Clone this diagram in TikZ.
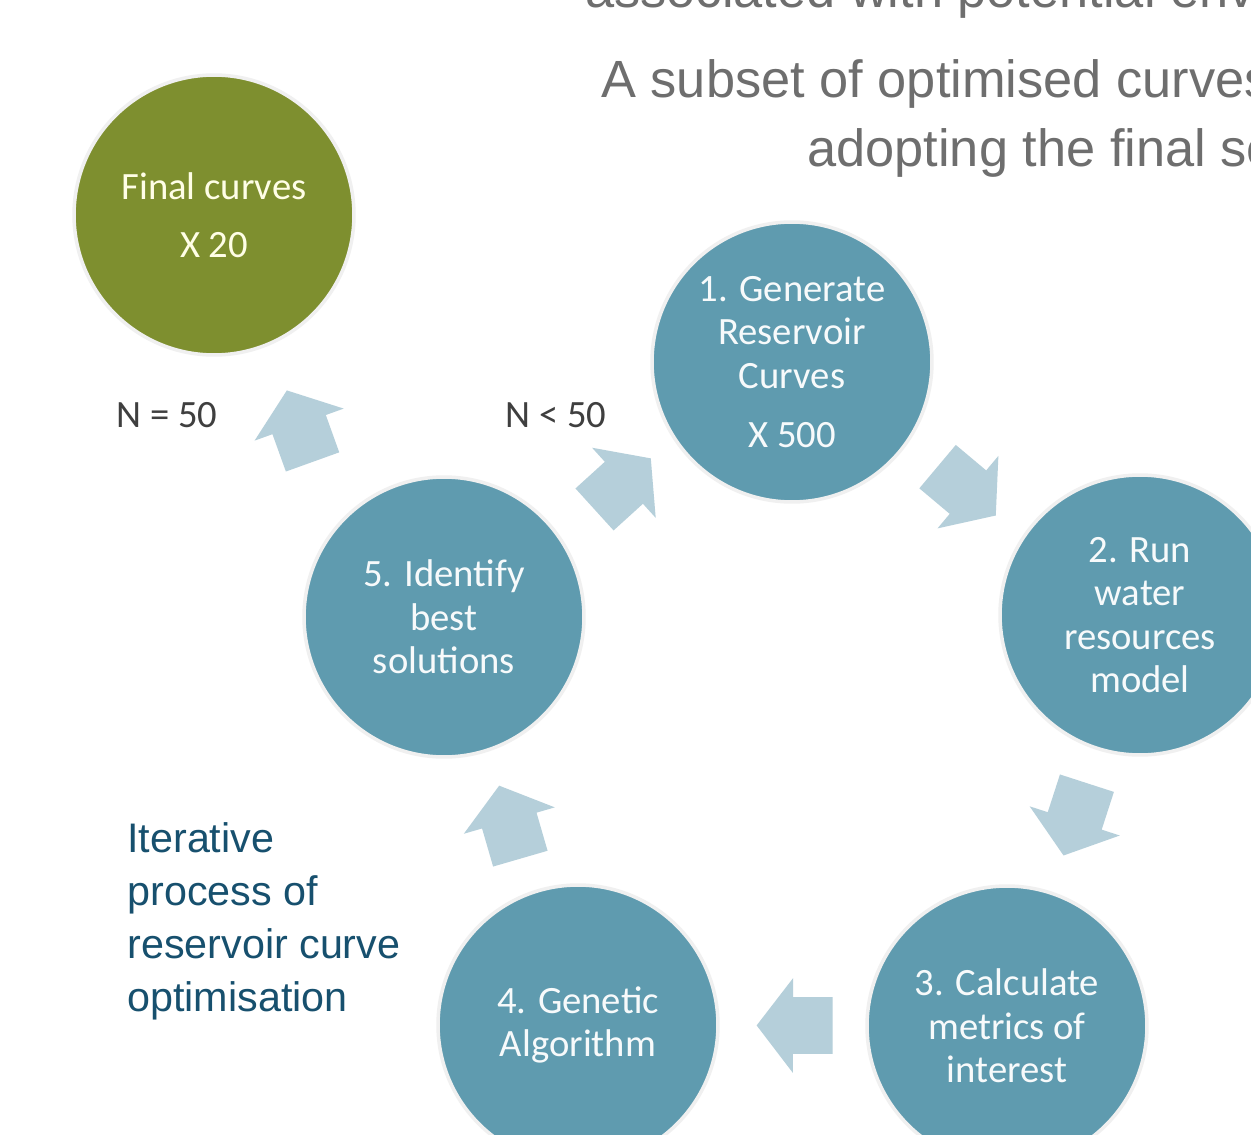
\documentclass[tikz,border=0pt]{standalone}
\usepackage{fontspec}
\setmainfont{Carlito}
\newfontfamily\arialfont{Liberation Sans}
\usepackage{xcolor}
\usetikzlibrary{positioning}
\usetikzlibrary{calc,shapes.arrows}
\definecolor{stepteal}{HTML}{5F9BAF}
\definecolor{finalolive}{HTML}{7E8F2F}
\definecolor{arrowblue}{HTML}{B5CFDA}
\definecolor{titlegray}{HTML}{6E6E6E}
\definecolor{notetext}{HTML}{17506E}
\definecolor{labelgray}{HTML}{3F3F3F}

\begin{document}
\begin{tikzpicture}[
      x=0.02cm, y=-0.02cm,
      type-step/.style={circle, fill=stepteal, draw=black!6, line width=2pt, minimum size=5.6cm, inner sep=0pt,
        text=white!95!stepteal, align=center, font=\fontsize{22}{24.7}\selectfont},
      type-final/.style={type-step, fill=finalolive, text=white!90!yellow},
      type-flow/.style={single arrow, fill=arrowblue, draw=none, minimum height=1.52cm, inner xsep=0pt,
        inner ysep=0.56cm, single arrow head extend=0.38cm, single arrow tip angle=105},
      type-count/.style={text=labelgray, font=\fontsize{22}{26}\selectfont},
      type-title/.style={anchor=base west, inner sep=0pt, text=titlegray, font=\arialfont\fontsize{29.8}{36}\selectfont}
    ]
      \useasboundingbox (0,0) rectangle (1251,1135);
      \clip (0,0) rectangle (1251,1135);
      \fill[white] (0,0) rectangle (1251,1135);

      % heading, cut off by the frame
      \node[type-title] (head1) at (585,8) {associated with potential envi};
      \node[type-title] (head2) at (601,98) {A subset of optimised curves};
      \node[type-title] (head3) at (807,167) {adopting the final se};

      % the loop
      \node[type-final] (fin) at (214,215) {Final curves\\[8pt] X 20};
      \node[type-step] (c1) at (792,362) {1. Generate\\ Reservoir\\ Curves\\[9pt] X 500};
      \node[type-step] (c2) at (1140,615) {2. Run\\ water\\ resources\\ model};
      \node[type-step] (c3) at (1007,1026) {3. Calculate\\ metrics of\\ interest};
      \node[type-step] (c4) at (578,1025) {4. Genetic\\ Algorithm};
      \node[type-step] (c5) at (444,617) {5. Identify\\ best\\ solutions};

      \foreach \from/\to/\dx/\dy/\dr in {c1/c2/0/2/-4, c2/c3/2/-2/0, c3/c4/3/0/0, c4/c5/-1/2/-2, c5/c1/4/-5/6, c5/fin/-29/11/-10}
        \path let \p1=($(\to)-(\from)$), \n1={atan2(\y1,\x1)+\dr} in
          node[type-flow, rotate=\n1, xshift=-0.2cm] (a-\from-\to) at ($($(\from)!0.5!(\to)$)+(\dx,\dy)$) {};

      \node[type-count] (stop) at (167,415) {N = 50};
      \node[type-count] (again) at (556,415) {N < 50};

      \node[anchor=north west, inner sep=0pt, align=left, text=notetext,
        font=\arialfont\fontsize{23.5}{30.3}\selectfont] (note) at (127,822)
        {Iterative\\ process of\\ reservoir curve\\ optimisation};
    \end{tikzpicture}
\end{document}
